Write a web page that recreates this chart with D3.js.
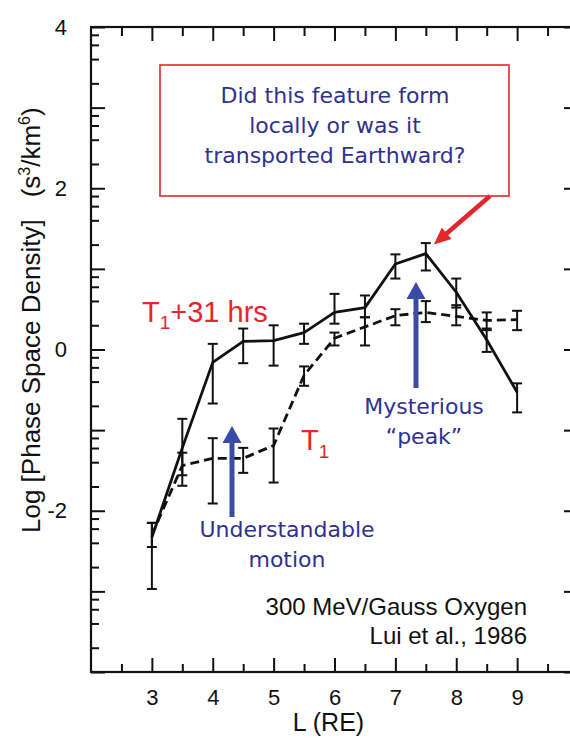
<!DOCTYPE html>
<html><head><meta charset="utf-8">
<script src="https://cdn.jsdelivr.net/npm/d3@7"></script>
<style>html,body{margin:0;padding:0;background:#fff;}svg{display:block;}</style>
</head><body>
<svg id="chart" width="570" height="743"></svg>
<script>
// ---- data ----
const L = [3, 3.5, 4, 4.5, 5, 5.5, 6, 6.5, 7, 7.5, 8, 8.5, 9];
const laterVals = [-2.33, -1.22, -0.16, 0.10, 0.11, 0.21, 0.46, 0.52, 1.06, 1.19, 0.71, 0.12, -0.53];
const laterLo   = [-2.97, -1.56, -0.67, -0.17, -0.20, 0.07, 0.32, 0.40, 0.88, 0.98, 0.52, -0.03, -0.78];
const laterHi   = [-2.15, -0.86, 0.07, 0.26, 0.30, 0.32, 0.69, 0.67, 1.18, 1.32, 0.88, 0.26, -0.42];
const t1Vals = [-2.30, -1.44, -1.35, -1.35, -1.19, -0.32, 0.14, 0.28, 0.42, 0.46, 0.41, 0.36, 0.37];
const t1Lo   = [-2.45, -1.69, -1.91, -1.53, -1.65, -0.45, 0.05, 0.05, 0.30, 0.34, 0.30, 0.24, 0.24];
const t1Hi   = [-2.15, -1.28, -1.10, -1.22, -0.98, -0.21, 0.21, 0.40, 0.50, 0.60, 0.55, 0.46, 0.48];
const xTickLabels = [3, 4, 5, 6, 7, 8, 9];
const xMinorTicks = [2.5, 3.5, 4.5, 5.5, 6.5, 7.5, 8.5, 9.5];
const yTickLabels = [-2, 0, 2, 4];
const yMajorTicks = [-4, -3, -2, -1, 0, 1, 2, 3, 4];
const yMinorMultipliers = [2, 4, 6, 8];

const svg = d3.select("#chart");
const x = d3.scaleLinear().domain([2, 10]).range([91, 578]);
const y = d3.scaleLinear().domain([-4, 4]).range([672, 27]);
const ARIAL = "'Liberation Sans', Arial, sans-serif";
const VERD = "'DejaVu Sans', Verdana, sans-serif";
const BLUE = "#30318f";
const ARROWBLUE = "#3a4aa6";
const RED = "#e3262b";

const yMinor = [];
yMajorTicks.slice(0, -1).forEach(n => yMinorMultipliers.forEach(k => yMinor.push(n + Math.log10(k))));

// ---- axes ----
function styleAxis(g) {
  g.selectAll("path.domain").remove();
  g.selectAll("line").attr("stroke", "#111").attr("stroke-width", 2);
}
// bottom
svg.append("g").attr("transform", `translate(0,${y(-4)})`)
  .call(d3.axisBottom(x).tickValues(xTickLabels).tickSizeInner(-14).tickSizeOuter(0).tickPadding(17).tickFormat(d3.format("d")))
  .call(styleAxis)
  .call(g => g.selectAll("text").attr("font-family", ARIAL).attr("font-size", 22).attr("fill", "#111"));
svg.append("g").attr("transform", `translate(0,${y(-4)})`)
  .call(d3.axisBottom(x).tickValues(xMinorTicks).tickSizeInner(-8).tickSizeOuter(0).tickFormat(""))
  .call(styleAxis);
// top
svg.append("g").attr("transform", `translate(0,${y(4)})`)
  .call(d3.axisTop(x).tickValues(xTickLabels).tickSizeInner(-14).tickSizeOuter(0).tickFormat(""))
  .call(styleAxis);
svg.append("g").attr("transform", `translate(0,${y(4)})`)
  .call(d3.axisTop(x).tickValues(xMinorTicks).tickSizeInner(-9).tickSizeOuter(0).tickFormat(""))
  .call(styleAxis);
// left
svg.append("g").attr("transform", `translate(${x(2)},0)`)
  .call(d3.axisLeft(y).tickValues(yMajorTicks).tickSizeInner(-14).tickSizeOuter(0).tickPadding(24)
    .tickFormat(d => yTickLabels.includes(d) ? String(d) : ""))
  .call(styleAxis)
  .call(g => g.selectAll("text").attr("font-family", ARIAL).attr("font-size", 22).attr("fill", "#111"));
svg.append("g").attr("transform", `translate(${x(2)},0)`)
  .call(d3.axisLeft(y).tickValues(yMinor).tickSizeInner(-8).tickSizeOuter(0).tickFormat(""))
  .call(styleAxis);
// right
svg.append("g").attr("transform", `translate(${x(10)},0)`)
  .call(d3.axisRight(y).tickValues(yMajorTicks).tickSizeInner(-14).tickSizeOuter(0).tickFormat(""))
  .call(styleAxis);
svg.append("g").attr("transform", `translate(${x(10)},0)`)
  .call(d3.axisRight(y).tickValues(yMinor).tickSizeInner(-8).tickSizeOuter(0).tickFormat(""))
  .call(styleAxis);
// frame
svg.append("rect").attr("x", x(2)).attr("y", y(4)).attr("width", x(10) - x(2)).attr("height", y(-4) - y(4))
  .attr("fill", "none").attr("stroke", "#111").attr("stroke-width", 2.2);

// axis titles
svg.append("text").attr("x", (x(2) + x(10)) / 2 - 6).attr("y", 731).attr("text-anchor", "middle")
  .attr("font-family", ARIAL).attr("font-size", 25).attr("fill", "#111").text("L (RE)");
const yl = svg.append("text").attr("transform", "translate(40,533) rotate(-90)")
  .attr("font-family", ARIAL).attr("font-size", 26).attr("fill", "#111");
yl.append("tspan").text("Log [Phase Space Density]");
yl.append("tspan").attr("dx", 22).text("(s");
yl.append("tspan").attr("dy", -10).attr("font-size", 16).text("3");
yl.append("tspan").attr("dy", 10).text("/km");
yl.append("tspan").attr("dy", -10).attr("font-size", 16).text("6");
yl.append("tspan").attr("dy", 10).text(")");

// ---- series ----
function series(vals, lo, hi, dash) {
  const pts = L.map((l, i) => ({ l, v: vals[i], lo: lo[i], hi: hi[i] }));
  const g = svg.append("g");
  g.append("path").datum(pts)
    .attr("d", d3.line().x(d => x(d.l)).y(d => y(d.v)))
    .attr("fill", "none").attr("stroke", "#111").attr("stroke-width", 2.8)
    .attr("stroke-dasharray", dash ? "9,5" : null).attr("stroke-linejoin", "round");
  const eb = g.selectAll("g.eb").data(pts).join("g").attr("stroke", "#111").attr("stroke-width", 2);
  eb.append("line").attr("x1", d => x(d.l)).attr("x2", d => x(d.l)).attr("y1", d => y(d.lo)).attr("y2", d => y(d.hi));
  eb.append("line").attr("x1", d => x(d.l) - 5).attr("x2", d => x(d.l) + 5).attr("y1", d => y(d.lo)).attr("y2", d => y(d.lo));
  eb.append("line").attr("x1", d => x(d.l) - 5).attr("x2", d => x(d.l) + 5).attr("y1", d => y(d.hi)).attr("y2", d => y(d.hi));
}
series(t1Vals, t1Lo, t1Hi, true);
series(laterVals, laterLo, laterHi, false);

// ---- annotations ----
function arrow(x1, y1, x2, y2, color, sw, hl, hw) {
  const dx = x2 - x1, dy = y2 - y1, len = Math.hypot(dx, dy);
  const ux = dx / len, uy = dy / len, px = -uy, py = ux;
  const bx = x2 - ux * hl, by = y2 - uy * hl;
  svg.append("line").attr("x1", x1).attr("y1", y1).attr("x2", bx + ux * 2).attr("y2", by + uy * 2)
    .attr("stroke", color).attr("stroke-width", sw);
  svg.append("path").attr("d", `M${x2},${y2}L${bx + px * hw / 2},${by + py * hw / 2}L${bx - px * hw / 2},${by - py * hw / 2}Z`)
    .attr("fill", color);
}

// question box
svg.append("rect").attr("x", 160).attr("y", 65).attr("width", 349).attr("height", 131)
  .attr("fill", "#fff").attr("stroke", RED).attr("stroke-width", 1.6);
const boxLines = ["Did this feature form", "locally or was it", "transported Earthward?"];
svg.append("g").selectAll("text").data(boxLines).join("text")
  .attr("x", 335).attr("y", (d, i) => 103 + i * 30).attr("text-anchor", "middle")
  .attr("font-family", VERD).attr("font-size", 22).attr("fill", BLUE).text(d => d);
arrow(490, 196, x(7.5) + 8, y(1.19) - 9, RED, 4.5, 17, 15);

// blue arrows
arrow(232, 517, 232, 426, ARROWBLUE, 5, 17, 19);
arrow(416, 388, 416, 282, ARROWBLUE, 5, 17, 19);

svg.append("g").selectAll("text").data(["Understandable", "motion"]).join("text")
  .attr("x", 287).attr("y", (d, i) => 537 + i * 30).attr("text-anchor", "middle")
  .attr("font-family", VERD).attr("font-size", 22).attr("fill", BLUE).text(d => d);
svg.append("g").selectAll("text").data(["Mysterious", "\u201Cpeak\u201D"]).join("text")
  .attr("x", 424).attr("y", (d, i) => 414 + i * 30).attr("text-anchor", "middle")
  .attr("font-family", VERD).attr("font-size", 22).attr("fill", BLUE).text(d => d);

// red series labels
const lab1 = svg.append("text").attr("x", 142).attr("y", 322)
  .attr("font-family", ARIAL).attr("font-size", 29).attr("fill", RED);
lab1.append("tspan").text("T");
lab1.append("tspan").attr("dy", 7).attr("font-size", 19).text("1");
lab1.append("tspan").attr("dy", -7).text("+31 hrs");
const lab2 = svg.append("text").attr("x", 301).attr("y", 450)
  .attr("font-family", ARIAL).attr("font-size", 29).attr("fill", RED);
lab2.append("tspan").text("T");
lab2.append("tspan").attr("dy", 8).attr("font-size", 19).text("1");

// source text
svg.append("g").selectAll("text").data(["300 MeV/Gauss Oxygen", "Lui et al., 1986"]).join("text")
  .attr("x", 527).attr("y", (d, i) => 615 + i * 29).attr("text-anchor", "end")
  .attr("font-family", ARIAL).attr("font-size", 24).attr("fill", "#111").text(d => d);
</script>
</body></html>
